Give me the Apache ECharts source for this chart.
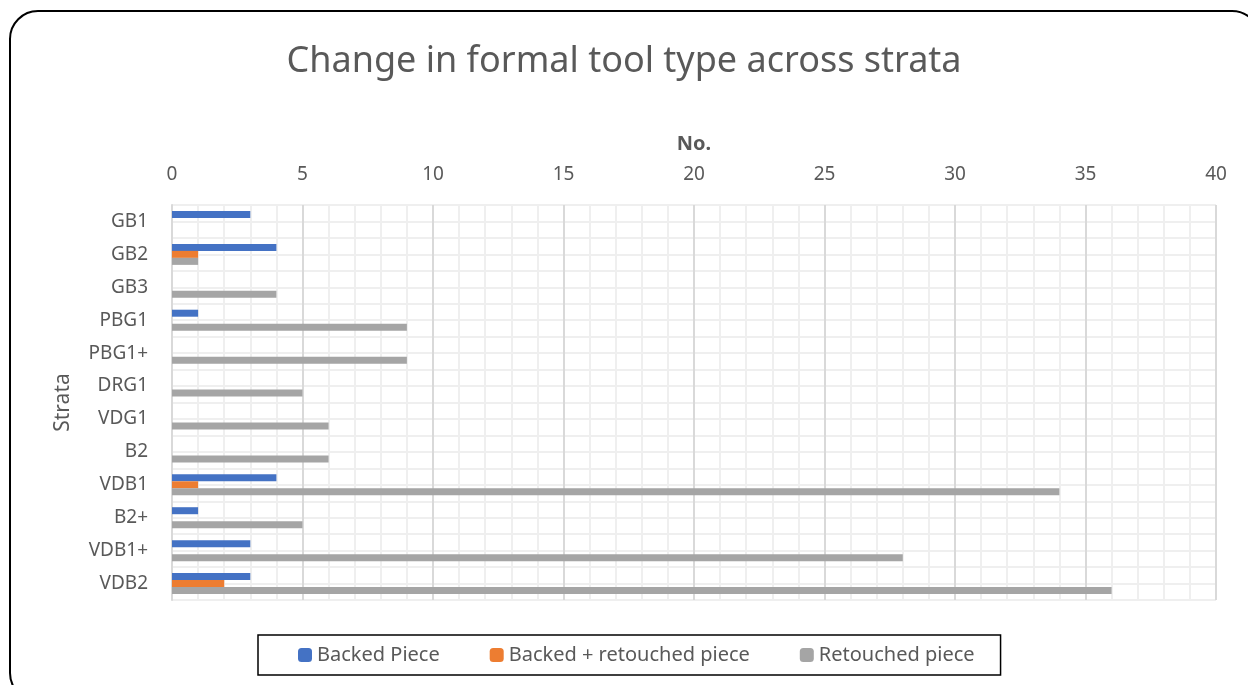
<!DOCTYPE html>
<html><head><meta charset="utf-8">
<script src="https://cdn.jsdelivr.net/npm/echarts@6/dist/echarts.min.js"></script>
<style>html,body{margin:0;padding:0;background:#fff}#c{width:1248px;height:685px}</style>
</head><body><div id="c"></div>
<script>
const categories = ['GB1','GB2','GB3','PBG1','PBG1+','DRG1','VDG1','B2','VDB1','B2+','VDB1+','VDB2'];
const backedPiece = [3,4,0,1,0,0,0,0,4,1,3,3];
const backedRetouched = [0,1,0,0,0,0,0,0,1,0,0,2];
const retouchedPiece = [0,1,4,9,9,5,6,6,34,5,28,36];
const xTicks = {min:0, max:40, interval:5};

const font = 'Noto Sans';
const txt = '#595959';
const chart = echarts.init(document.getElementById('c'));
chart.setOption({
  animation:false,
  title:{text:'Change in formal tool type across strata', left:'center', top:39,
    textStyle:{fontFamily:font, fontSize:36, fontWeight:'normal', color:txt}},
  graphic:[{type:'rect', shape:{x:10, y:11, width:1250, height:690, r:28},
    style:{fill:'none', stroke:'#000', lineWidth:2}, z:-10}],
  legend:{bottom:10, left:258, itemWidth:14, itemHeight:14, itemGap:50,
    borderColor:'#000', borderWidth:1.5, padding:[10,26,10,40],
    textStyle:{fontFamily:font, fontSize:20, color:txt},
    data:['Backed Piece','Backed + retouched piece','Retouched piece']},
  grid:{left:172, right:32, top:205, bottom:85, containLabel:false},
  xAxis:{type:'value', position:'top', min:xTicks.min, max:xTicks.max, interval:xTicks.interval,
    name:'No.', nameLocation:'middle', nameGap:51,
    nameTextStyle:{fontFamily:font, fontSize:20, fontWeight:'bold', color:txt},
    axisLabel:{fontFamily:font, fontSize:19, color:txt, margin:21},
    axisLine:{show:false}, axisTick:{show:false},
    splitLine:{lineStyle:{color:'#d9d9d9', width:2}},
    minorTick:{show:false, splitNumber:5},
    minorSplitLine:{show:true, lineStyle:{color:'#efefef', width:2}}},
  yAxis:[{type:'category', data:categories, inverse:true,
    name:'Strata', nameLocation:'middle', nameGap:98, nameRotate:90,
    nameTextStyle:{fontFamily:font, fontSize:21, color:txt},
    axisLabel:{fontFamily:font, fontSize:19, color:txt, margin:24},
    axisLine:{show:true, lineStyle:{color:'#d9d9d9', width:2}}, axisTick:{show:false},
    splitLine:{show:false}},
   {type:'value', min:0, max:24, interval:1, position:'right',
    axisLabel:{show:false}, axisLine:{show:false}, axisTick:{show:false},
    splitLine:{show:true, lineStyle:{color:'#efefef', width:2}}}],
  series:[
    {name:'Backed Piece', type:'bar', data:backedPiece, barWidth:7, barGap:'0%', itemStyle:{color:'#4472C4'}},
    {name:'Backed + retouched piece', type:'bar', data:backedRetouched, barWidth:7, barGap:'0%', itemStyle:{color:'#ED7D31'}},
    {name:'Retouched piece', type:'bar', data:retouchedPiece, barWidth:7, barGap:'0%', itemStyle:{color:'#A5A5A5'}}
  ]
});
</script></body></html>
